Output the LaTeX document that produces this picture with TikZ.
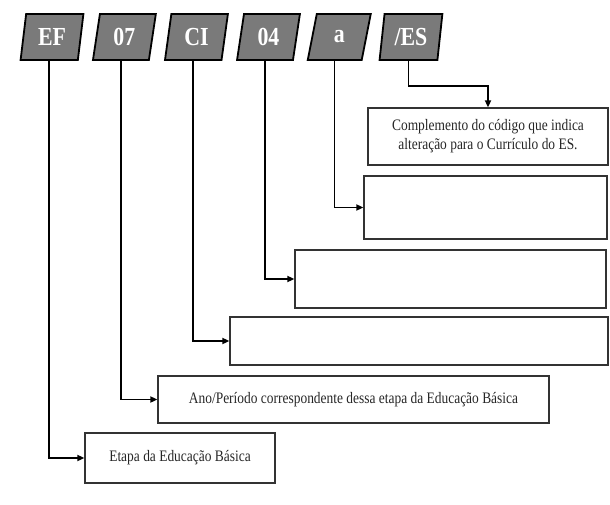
\documentclass[tikz,border=0pt]{standalone}
\usepackage{fontspec}
\setmainfont{Liberation Serif}
\newfontfamily\narrowserif[FakeStretch=0.84]{Liberation Serif}
\usetikzlibrary{arrows.meta, positioning, shapes.geometric}

\begin{document}
\begin{tikzpicture}[x=1pt, y=-1pt,
        code/.style = {draw=black, line width=1.8pt, fill=black!52, text=white,
            trapezium, trapezium left angle=80, trapezium right angle=100,
            trapezium stretches=true, minimum width=63pt, minimum height=46pt,
            inner sep=0pt, font=\narrowserif\fontsize{26}{26}\selectfont\bfseries},
        info/.style = {draw=black!80, line width=1.3pt, rectangle, align=center,
            inner sep=2pt, text=black!85,
            font=\narrowserif\fontsize{16}{19}\selectfont},
        link/.style = {line width=1.8pt, -{Triangle[length=7pt, width=6pt]}}]
        \useasboundingbox (0,0) rectangle (610,505);
        % codigo
        \node[code] (ef) at (52,37) {EF};
        \node[code] (ano) [right=14pt of ef] {07};
        \node[code] (ci) [right=14pt of ano] {CI};
        \node[code] (hab) [right=14pt of ci] {04};
        \node[code] (sub) [right=14pt of hab] {a};
        \node[code] (es) [right=14pt of sub] {/ES};
        % caixas
        \node[info, minimum width=240pt, minimum height=57pt] (c1) at (488,136.5)
            {Complemento do código que indica\\alteração para o Currículo do ES.};
        \node[info, minimum width=243pt, minimum height=63pt] (c2) at (485.5,207.5) {};
        \node[info, minimum width=311pt, minimum height=58pt] (c3) at (450.5,279) {};
        \node[info, minimum width=378pt, minimum height=48pt] (c4) at (419,341) {};
        \node[info, minimum width=391pt, minimum height=47pt] (c5) at (353.5,399.5)
            {Ano/Período correspondente dessa etapa da Educação Básica};
        \node[info, minimum width=190pt, minimum height=50pt] (c6) at (180,458)
            {Etapa da Educação Básica};
        % ligacoes
        \draw[link] (es.bottom side) -- ++(0,25) -| (c1.north);
        \draw[link] (sub.bottom side) |- (c2.west);
        \draw[link] (hab.bottom side) |- (c3.west);
        \draw[link] (ci.bottom side) |- (c4.west);
        \draw[link] (ano.bottom side) |- (c5.west);
        \draw[link] (ef.bottom side) |- (c6.west);
\end{tikzpicture}
\end{document}
